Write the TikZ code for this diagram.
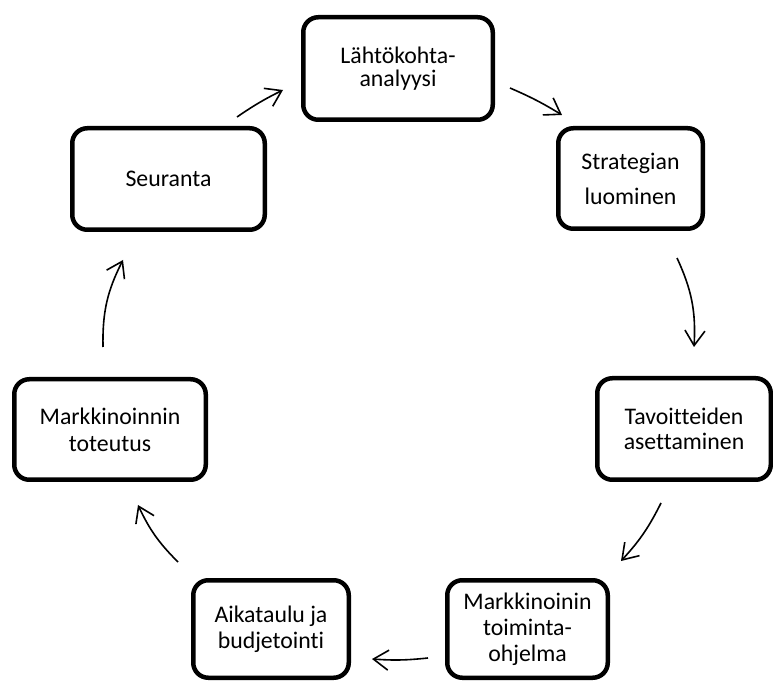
\documentclass[tikz,border=0pt]{standalone}
\usepackage{fontspec}
\setmainfont{Carlito}[Ligatures={NoCommon}]
\usetikzlibrary{arrows.meta}
\tikzset{
  stage/.style={draw=black, line width=4.5pt, rounded corners=15pt, rectangle,
    inner sep=0pt, align=center, text=black},
  flow/.style={line width=1.6pt, -{Straight Barb[length=15pt,width=20pt,line width=1.6pt]}},
}
\newcommand{\fs}[1]{\fontsize{23.8}{#1}\selectfont}
\begin{document}
\begin{tikzpicture}[x=1pt,y=1pt]
\useasboundingbox (0,0) rectangle (773,680);
\node[stage, minimum width=189.5pt, minimum height=102.5pt, font=\fs{23}] (A) at (398,611.5) {Lähtökohta-\\analyysi};
\node[stage, minimum width=144.5pt, minimum height=100.5pt, font=\fs{35}] (B) at (630.5,501.5) {Strategian\\luominen};
\node[stage, minimum width=173.5pt, minimum height=101.5pt, font=\fs{25}] (C) at (684,251) {Tavoitteiden\\asettaminen};
\node[stage, minimum width=160.5pt, minimum height=97.5pt, font=\fs{26}] (D) at (527.5,51) {Markkinoinin\\toiminta-\\ohjelma};
\node[stage, minimum width=155.5pt, minimum height=97.5pt, font=\fs{26}] (E) at (271,51) {Aikataulu ja\\budjetointi};
\node[stage, minimum width=191.5pt, minimum height=100.5pt, font=\fs{27}] (F) at (110,250.5) {Markkinoinnin\\toteutus};
\node[stage, minimum width=192.5pt, minimum height=101.5pt, font=\fs{24}] (G) at (168.5,501) {Seuranta};

\coordinate (s1) at (237,563); \coordinate (t1) at (283,590);
\coordinate (s2) at (510,592); \coordinate (t2) at (562,565);
\coordinate (s3) at (677,422); \coordinate (t3) at (694,333);
\coordinate (s4) at (661,177); \coordinate (t4) at (621,119);
\coordinate (s5) at (428,22);  \coordinate (t5) at (372,21);
\coordinate (s6) at (178,118); \coordinate (t6) at (138,175);
\coordinate (s7) at (103,333); \coordinate (t7) at (123,420);

\draw[flow] (s1) to[bend left=4] (t1);
\draw[flow] (s2) to[bend left=4] (t2);
\draw[flow] (s3) to[bend left=14] (t3);
\draw[flow] (s4) to[bend left=8] (t4);
\draw[flow] (s5) to[bend left=5] (t5);
\draw[flow] (s6) to[bend left=10] (t6);
\draw[flow] (s7) to[bend left=14] (t7);
\end{tikzpicture}
\end{document}
